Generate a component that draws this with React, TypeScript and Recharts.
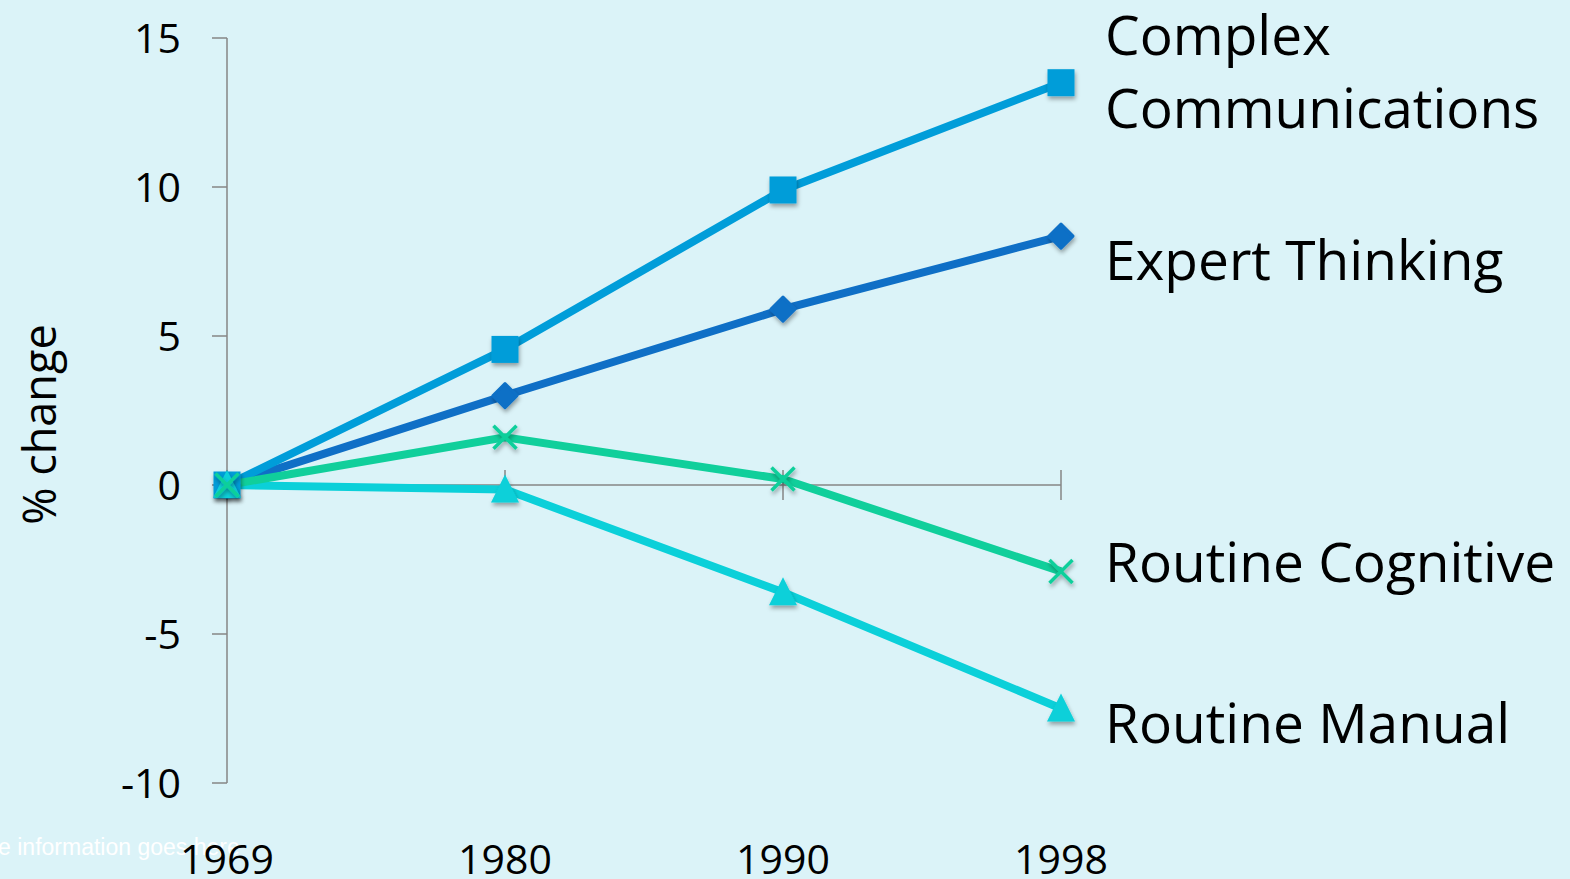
import React from 'react';
import { LineChart, Line, XAxis, YAxis, ReferenceLine, LabelList } from 'recharts';

const years = ['1969', '1980', '1990', '1998'];
const complexComm = [0, 4.55, 9.9, 13.5];
const expertThinking = [0, 3.0, 5.9, 8.35];
const routineCognitive = [0, 1.6, 0.2, -2.9];
const routineManual = [0, -0.15, -3.6, -7.5];
const yTicks = [-10, -5, 0, 5, 10, 15];

const data = years.map((year, i) => ({
  year,
  cc: complexComm[i],
  et: expertThinking[i],
  rc: routineCognitive[i],
  rm: routineManual[i],
}));

const C_CC = '#009DD9';
const C_ET = '#0F6FC6';
const C_RC = '#10CF9B';
const C_RM = '#0BD0D9';
const AXIS = '#868686';
const FONT = '"Open Sans", sans-serif';

const SquareDot = (p: any) => {
  const { cx, cy, index } = p;
  if (cx == null || cy == null) return <g key={`s${index}`} />;
  return <rect key={`s${index}`} x={cx - 13.5} y={cy - 13.5} width={27} height={27} fill={C_CC} filter="url(#mkShadow)" />;
};
const DiamondDot = (p: any) => {
  const { cx, cy, index } = p;
  if (cx == null || cy == null) return <g key={`d${index}`} />;
  const r = 12;
  return (
    <polygon
      key={`d${index}`}
      points={`${cx},${cy - r} ${cx + r},${cy} ${cx},${cy + r} ${cx - r},${cy}`}
      fill={C_ET}
      stroke={C_ET}
      strokeWidth={3}
      strokeLinejoin="round"
      filter="url(#mkShadow)"
    />
  );
};
const XDot = (p: any) => {
  const { cx, cy, index } = p;
  if (cx == null || cy == null) return <g key={`x${index}`} />;
  const r = 11.5;
  return (
    <g key={`x${index}`} filter="url(#mkShadow)">
      <line x1={cx - r} y1={cy - r} x2={cx + r} y2={cy + r} stroke={C_RC} strokeWidth={3.5} />
      <line x1={cx - r} y1={cy + r} x2={cx + r} y2={cy - r} stroke={C_RC} strokeWidth={3.5} />
    </g>
  );
};
const TriDot = (p: any) => {
  const { cx, cy, index } = p;
  if (cx == null || cy == null) return <g key={`t${index}`} />;
  return (
    <polygon
      key={`t${index}`}
      points={`${cx},${cy - 15} ${cx + 14},${cy + 13} ${cx - 14},${cy + 13}`}
      fill={C_RM}
      filter="url(#mkShadow)"
    />
  );
};

const makeEndLabel = (lines: string[], dys: number[]) => (p: any) => {
  const { x, y, index } = p;
  if (index !== years.length - 1) return null;
  return (
    <text x={x + 44} y={y} fontFamily={FONT} fontSize={55} fill="#000">
      {lines.map((l, i) => (
        <tspan key={i} x={x + 44} y={y + dys[i]}>
          {l}
        </tspan>
      ))}
    </text>
  );
};

const YLabel = (p: any) => {
  const vb = p.viewBox || {};
  const cx = (vb.x || 0) + 38;
  const cy = (vb.y || 0) + (vb.height || 0) / 2 + 14;
  return (
    <text
      x={cx}
      y={cy}
      transform={`rotate(-90 ${cx} ${cy})`}
      textAnchor="middle"
      dominantBaseline="central"
      fontFamily={FONT}
      fontSize={45}
      fill="#000"
    >
      % change
    </text>
  );
};

export default function App() {
  return (
    <div style={{ position: 'absolute', left: 0, top: 0, width: 1570, height: 879, background: '#DBF3F8', overflow: 'hidden' }}>
      <svg width={0} height={0} style={{ position: 'absolute' }}>
        <defs>
          <filter id="mkShadow" x="-50%" y="-50%" width="200%" height="200%">
            <feDropShadow dx={1} dy={3} stdDeviation={2} floodColor="#000" floodOpacity={0.35} />
          </filter>
        </defs>
      </svg>
      <svg width={1570} height={879} style={{ position: 'absolute', left: 0, top: 0 }}>
        <text x={-62} y={855} fill="#FFFFFF" fontFamily='"Liberation Sans", Arial, sans-serif' fontSize={23}>
          Source information goes here
        </text>
      </svg>
      <div style={{ position: 'absolute', left: 0, top: 0 }}>
        <LineChart width={1570} height={879} data={data} margin={{ top: 38, right: 509, left: 0, bottom: 6 }} style={{ fontFamily: FONT }}>
          <XAxis
            dataKey="year"
            axisLine={false}
            tickLine={false}
            tickSize={0}
            tickMargin={62}
            height={90}
            interval={0}
            padding={{ left: 0, right: 0 }}
            tick={{ fontSize: 41, fill: '#000', fontFamily: FONT }}
          />
          <YAxis
            width={227}
            domain={[-10, 15]}
            ticks={yTicks}
            interval={0}
            tickSize={15}
            tickMargin={31}
            axisLine={{ stroke: AXIS, strokeWidth: 1.5 }}
            tickLine={{ stroke: AXIS, strokeWidth: 1.5 }}
            tick={{ fontSize: 41, fill: '#000', fontFamily: FONT }}
            label={{ content: YLabel }}
          />
          <ReferenceLine y={0} stroke={AXIS} strokeWidth={1.5} />
          {years.map((yr) => (
            <ReferenceLine
              key={`tk${yr}`}
              segment={[
                { x: yr, y: -0.5 },
                { x: yr, y: 0.5 },
              ]}
              stroke={AXIS}
              strokeWidth={1.5}
            />
          ))}
          <Line dataKey="et" stroke={C_ET} strokeWidth={8} dot={DiamondDot} isAnimationActive={false}>
            <LabelList dataKey="et" content={makeEndLabel(['Expert Thinking'], [44])} />
          </Line>
          <Line dataKey="cc" stroke={C_CC} strokeWidth={8} dot={SquareDot} isAnimationActive={false}>
            <LabelList dataKey="cc" content={makeEndLabel(['Complex', 'Communications'], [-28, 45])} />
          </Line>
          <Line dataKey="rm" stroke={C_RM} strokeWidth={8} dot={TriDot} isAnimationActive={false}>
            <LabelList dataKey="rm" content={makeEndLabel(['Routine Manual'], [34])} />
          </Line>
          <Line dataKey="rc" stroke={C_RC} strokeWidth={8} dot={XDot} isAnimationActive={false}>
            <LabelList dataKey="rc" content={makeEndLabel(['Routine Cognitive'], [11])} />
          </Line>
        </LineChart>
      </div>
    </div>
  );
}
